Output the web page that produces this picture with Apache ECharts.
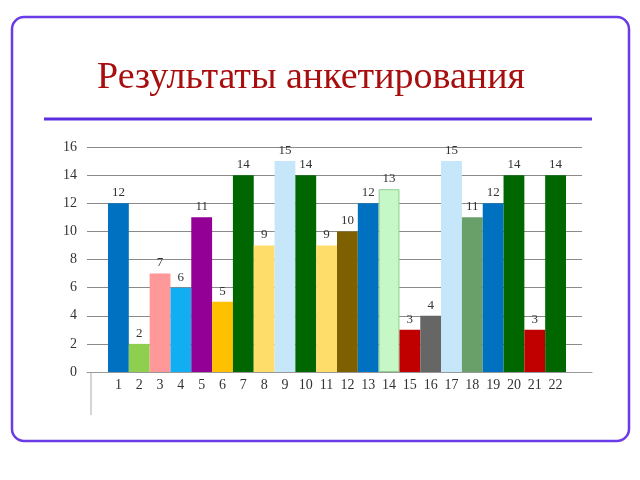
<!DOCTYPE html>
<html><head><meta charset="utf-8">
<script src="https://cdn.jsdelivr.net/npm/echarts@6/dist/echarts.min.js"></script>
<style>html,body{margin:0;padding:0;background:#fff}#c{width:640px;height:480px}</style>
</head><body><div id="c"></div>
<script>
const titleText = "Результаты анкетирования";
const categories = ["1","2","3","4","5","6","7","8","9","10","11","12","13","14","15","16","17","18","19","20","21","22"];
const values = [12,2,7,6,11,5,14,9,15,14,9,10,12,13,3,4,15,11,12,14,3,14];
const barColors = ["#0070c0","#8fcf50","#ff9999","#12aef2","#920096","#ffc000","#006600","#ffdd6a","#c6e6fa","#006600","#ffdd6a","#7f6000","#0070c0","#c6f7c6","#c00000","#666666","#c6e6fa","#69a069","#0070c0","#006600","#c00000","#006600"];
const yTicks = {min:0, max:16, interval:2};

const chart = echarts.init(document.getElementById('c'), null, {renderer:'canvas'});
const serif = "'Liberation Serif','DejaVu Serif',serif";
chart.setOption({
  animation:false,
  title:{text:titleText,left:306,textAlign:'center',top:54,textStyle:{fontFamily:serif,fontSize:38,fontWeight:'normal',color:'#a80e0e'}},
  graphic:[
    {type:'rect',shape:{x:12,y:17,width:617,height:424,r:12},style:{fill:'none',stroke:'#6a3be6',lineWidth:2.5},z:-1},
    {type:'line',shape:{x1:44,y1:119,x2:592,y2:119},style:{stroke:'#5a2ee0',lineWidth:3}},
    {type:'line',shape:{x1:91,y1:372,x2:91,y2:415},style:{stroke:'#aaaaaa',lineWidth:1}}
  ],
  grid:[
    {left:87,right:58,top:147,bottom:108},
    {left:108,right:74,top:147,bottom:108},
    {left:87,right:48,top:147,bottom:108}
  ],
  xAxis:[
    {gridIndex:0,type:'value',show:false},
    {gridIndex:1,type:'category',data:categories,axisLine:{show:false},axisTick:{show:false},
     axisLabel:{margin:6,fontFamily:serif,fontSize:14,color:'#333'}},
    {gridIndex:2,type:'value',show:true,axisLine:{show:true,lineStyle:{color:'#999',width:1}},axisTick:{show:false},axisLabel:{show:false},splitLine:{show:false}}
  ],
  yAxis:[
    {gridIndex:0,type:'value',min:yTicks.min,max:yTicks.max,interval:yTicks.interval,
     axisLine:{show:false},axisTick:{show:false},
     axisLabel:{margin:10,fontFamily:serif,fontSize:14,color:'#333'},
     splitLine:{show:true,lineStyle:{color:'#8a8a8a',width:1}}},
    {gridIndex:1,type:'value',min:yTicks.min,max:yTicks.max,interval:yTicks.interval,show:false},
    {gridIndex:2,type:'value',min:yTicks.min,max:yTicks.max,show:false}
  ],
  series:[{
    type:'bar',xAxisIndex:1,yAxisIndex:1,barCategoryGap:'0%',
    data:values.map((v,i)=>({value:v,itemStyle:{color:barColors[i],borderColor:i===13?'#8fcf8f':undefined,borderWidth:i===13?1:0}})),
    label:{show:true,position:'top',distance:4,fontFamily:serif,fontSize:13,color:'#333'},
    z:3
  }]
});
</script></body></html>
